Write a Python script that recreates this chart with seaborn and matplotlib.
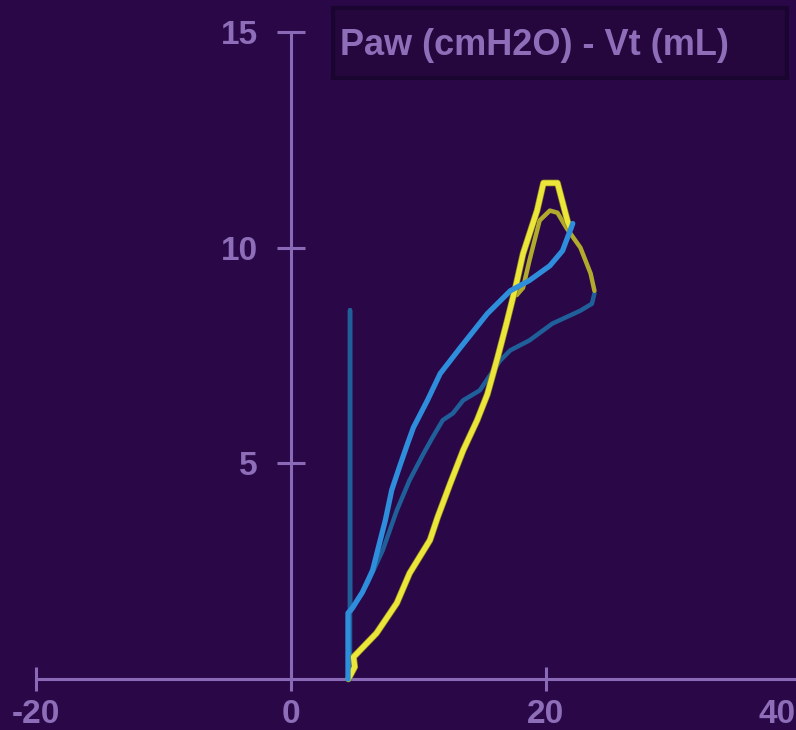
import matplotlib
matplotlib.use("Agg")
import matplotlib.pyplot as plt
import matplotlib.patheffects as pe
from matplotlib.patches import Rectangle
from matplotlib.transforms import ScaledTranslation
import pandas as pd
import seaborn as sns

# Axis ticks and labels
x_ticks = [-20, 0, 20, 40]
x_tick_labels = ["-20", "0", "20", "40"]
y_ticks = [5, 10, 15]
y_tick_labels = ["5", "10", "15"]
title_text = "Paw (cmH2O) - Vt (mL)"

# Current breath, inspiratory limb and peak (pressure cmH2O, volume mL)
yellow_paw = [4.5, 5.0, 4.9, 5.2, 6.7, 8.3, 9.3, 10.9, 11.5, 12.5, 13.5, 14.6,
              15.4, 16.2, 16.9, 17.6, 18.2, 19.3, 19.8, 20.9, 21.7, 21.9]
yellow_vt = [0.0, 0.28, 0.51, 0.60, 1.06, 1.76, 2.45, 3.22, 3.75, 4.54, 5.30, 6.0,
             6.6, 7.45, 8.24, 9.07, 9.86, 10.86, 11.5, 11.5, 10.6, 10.46]

# Current breath, peak and start of deflation
olive_paw = [17.7, 18.2, 18.7, 19.5, 20.3, 20.9, 21.6, 22.7, 23.5, 23.8]
olive_vt = [8.9, 9.07, 9.70, 10.63, 10.86, 10.81, 10.46, 10.0, 9.40, 9.0]

# Reference breath, expiratory limb with the initial spike
dark_paw = [23.8, 23.6, 22.7, 20.5, 18.7, 17.2, 16.4, 14.8, 13.5, 12.7, 11.9,
            11.1, 10.4, 9.3, 8.3, 7.2, 6.0, 4.9, 4.63, 4.63, 4.63]
dark_vt = [8.94, 8.70, 8.54, 8.24, 7.85, 7.62, 7.38, 6.69, 6.46, 6.16, 6.0,
           5.6, 5.23, 4.61, 3.91, 2.99, 2.22, 1.67, 1.55, 8.55, 0.0]

# Reference breath, inspiratory limb
blue_paw = [4.47, 4.47, 4.8, 5.6, 6.4, 7.0, 7.4, 7.9, 8.5, 9.1, 9.6, 10.7, 11.7,
            13.3, 15.4, 17.2, 18.7, 20.3, 21.3, 22.1]
blue_vt = [0.0, 1.53, 1.64, 2.01, 2.52, 3.22, 3.68, 4.38, 4.91, 5.42, 5.83, 6.46,
           7.08, 7.69, 8.47, 9.0, 9.24, 9.58, 9.93, 10.56]

BG = "#2a0848"
AXIS = "#8a6ab6"
TEXT = "#8e6eb8"

sns.set_theme(style="white")
plt.rcParams["font.family"] = ["Liberation Sans", "DejaVu Sans"]

W, H = 796, 730
fig = plt.figure(figsize=(W / 100, H / 100), dpi=100, facecolor=BG)
ax = fig.add_axes([36 / W, 51 / H, 765 / W, 647 / H])
ax.set_facecolor(BG)


def trace(paw, vt, color, lw, effects=None):
    df = pd.DataFrame({"Paw": paw, "Vt": vt})
    sns.lineplot(data=df, x="Paw", y="Vt", sort=False, estimator=None,
                 color=color, linewidth=lw, ax=ax, clip_on=False,
                 solid_joinstyle="round", solid_capstyle="round",
                 path_effects=effects, zorder=3)


trace(dark_paw, dark_vt, "#20609a", 3.2)
trace(olive_paw, olive_vt, "#b2aa2c", 3.2)
trace(yellow_paw, yellow_vt, "#ece53a", 3.8,
      [pe.Stroke(linewidth=4.8, foreground="#8c8624"), pe.Normal()])
trace(blue_paw, blue_vt, "#2e8edc", 3.8)

ax.set_xlim(-20, 40)
ax.set_ylim(0, 15)
ax.set_xlabel("")
ax.set_ylabel("")

for side in ("top", "right"):
    ax.spines[side].set_visible(False)
ax.spines["left"].set_position(("data", 0))
ax.spines["left"].set_bounds(0, 15)
ax.spines["bottom"].set_bounds(-20, 40)
for side in ("left", "bottom"):
    ax.spines[side].set_color(AXIS)
    ax.spines[side].set_linewidth(2.2)
    ax.spines[side].set_zorder(2)

ax.set_xticks(x_ticks)
ax.set_xticklabels(x_tick_labels)
ax.set_yticks(y_ticks)
ax.set_yticklabels(y_tick_labels)
ax.tick_params(axis="x", bottom=True, direction="inout", length=17, width=2.2,
               color=AXIS, labelcolor=TEXT, labelsize=24, pad=6)
ax.tick_params(axis="y", left=True, direction="inout", length=20, width=2.2,
               color=AXIS, labelcolor=TEXT, labelsize=24, pad=14)
for lab in ax.get_xticklabels() + ax.get_yticklabels():
    lab.set_fontweight("bold")
last = ax.get_xticklabels()[-1]
last.set_horizontalalignment("right")
last.set_transform(last.get_transform()
                   + ScaledTranslation(-0.05, 0, fig.dpi_scale_trans))

# Title box
box = Rectangle((333 / W, 1 - 78 / H), (787 - 333) / W, 70 / H,
                transform=fig.transFigure, facecolor="#25073e",
                edgecolor="#1a0530", linewidth=3, zorder=5)
fig.add_artist(box)
fig.text(340 / W, 1 - 55 / H, title_text, ha="left", va="baseline",
         fontsize=26, fontweight="bold", color=TEXT, zorder=6)

fig.savefig("out.png", dpi=100, facecolor=BG)
